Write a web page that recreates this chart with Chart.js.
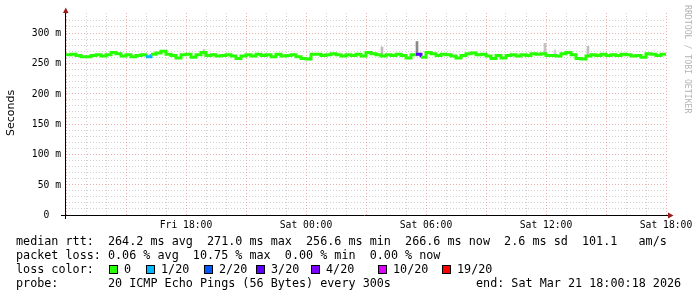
<!DOCTYPE html>
<html>
<head>
<meta charset="utf-8">
<script src="https://cdn.jsdelivr.net/npm/chart.js@4.4.1/dist/chart.umd.min.js"></script>
<style>
  html, body { margin: 0; padding: 0; background: #fff; }
  #wrap { position: relative; width: 697px; height: 297px; overflow: hidden; }
  #myChart { position: absolute; left: 0; top: 0; }
  .row { position: absolute; left: 16px; font-family: "DejaVu Sans Mono", monospace; font-size: 11.75px; white-space: pre; color: #000; line-height: 14px; }
  .box { position: absolute; width: 7px; height: 7px; border: 1px solid #000; top: 3px; }
  .lbl { position: absolute; top: 0; }
</style>
</head>
<body>
<div id="wrap">
  <canvas id="myChart" width="697" height="297"></canvas>
  <div class="row" style="top:234px">median rtt:  264.2 ms avg  271.0 ms max  256.6 ms min  266.6 ms now  2.6 ms sd  101.1   am/s</div>
  <div class="row" style="top:248px">packet loss: 0.06 % avg  10.75 % max  0.00 % min  0.00 % now</div>
  <div class="row" id="lossRow" style="top:262px;width:670px;height:14px">loss color:</div>
  <div class="row" style="top:276px">probe:       20 ICMP Echo Pings (56 Bytes) every 300s</div>
  <div class="row" style="top:276px;left:476px">end: Sat Mar 21 18:00:18 2026</div>
</div>
<script>
// median rtt in ms, one reading every 15 minutes from Fri 12:00 to Sat 18:00
const medianMs = [264, 265, 263, 261, 261, 263, 264, 262, 264, 268,
  266, 262, 264, 261, 263, 264, 261, 265, 267, 270,
  265, 263, 259, 264, 265, 260, 264, 268, 263, 264,
  262, 263, 264, 262, 258, 262, 264, 262, 265, 263,
  264, 261, 265, 262, 263, 264, 261, 258, 257, 265,
  265, 263, 264, 266, 264, 262, 264, 263, 265, 262,
  268, 266, 264, 262, 264, 263, 265, 263, 259, 264,
  265, 260, 268, 266, 263, 265, 264, 262, 259, 263,
  266, 267, 264, 265, 262, 258, 263, 259, 263, 264,
  262, 264, 263, 266, 265, 266, 263, 263, 262, 266,
  268, 264, 258, 257, 262, 264, 263, 265, 263, 264,
  263, 265, 264, 262, 263, 260, 266, 265, 263, 265, 266];
const stepHours = 0.25;

// smoke spikes (hours since start, low / high ms)
const spikeHours = [6.9, 15.8, 17.55, 23.95, 24.45, 26.1];
const spikeLow = [263, 263, 264, 264, 263, 263];
const spikeHigh = [273, 277, 286, 283, 272, 278];
const spikeColors = ['#cccccc', '#bbbbbb', '#8a8a8a', '#c4c4c4', '#d0d0d0', '#c0c0c0'];

// samples with some packet loss
const lossIndex = [16, 70];
const lossColor = ['#00b8ff', '#5e00ff'];

const yTicks = [0, 50, 100, 150, 200, 250, 300];
const xTickHours = [6, 12, 18, 24, 30];
const xTickLabels = ['Fri 18:00', 'Sat 00:00', 'Sat 06:00', 'Sat 12:00', 'Sat 18:00'];

const legendLabels = ['0', '1/20', '2/20', '3/20', '4/20', '10/20', '19/20'];
const legendColors = ['#26ff00', '#00b8ff', '#0059ff', '#5e00ff', '#7e00ff', '#dd00ff', '#ff0000'];
const legendBoxX = [93, 130, 188, 240, 295, 362, 426];

// loss colour legend row
const lossRow = document.getElementById('lossRow');
legendLabels.forEach((t, i) => {
  const b = document.createElement('div');
  b.className = 'box';
  b.style.left = legendBoxX[i] + 'px';
  b.style.background = legendColors[i];
  lossRow.appendChild(b);
  const l = document.createElement('div');
  l.className = 'lbl';
  l.style.left = (legendBoxX[i] + 15) + 'px';
  l.textContent = t;
  lossRow.appendChild(l);
});

const MINOR = 'rgba(170,170,170,0.55)';
const MAJOR = 'rgba(225,120,120,0.6)';
const monoFont = '"DejaVu Sans Mono", monospace';

const decor = {
  id: 'decor',
  afterDraw(chart) {
    const {ctx, chartArea: a, scales: {x, y}} = chart;
    ctx.save();
    // axes
    ctx.strokeStyle = '#000';
    ctx.lineWidth = 1;
    ctx.beginPath();
    ctx.moveTo(65.5, a.bottom + 4);
    ctx.lineTo(65.5, 11);
    ctx.moveTo(61, a.bottom + 0.5);
    ctx.lineTo(668, a.bottom + 0.5);
    ctx.stroke();
    // arrows
    ctx.fillStyle = '#9b1c1c';
    ctx.beginPath();
    ctx.moveTo(63, 13); ctx.lineTo(68.5, 13); ctx.lineTo(65.75, 7.5); ctx.closePath();
    ctx.fill();
    ctx.beginPath();
    ctx.moveTo(668, 212.5); ctx.lineTo(668, 218.5); ctx.lineTo(673.5, 215.5); ctx.closePath();
    ctx.fill();

    // tick labels
    ctx.fillStyle = '#000';
    ctx.font = '9.7px ' + monoFont;
    ctx.textAlign = 'right';
    ctx.textBaseline = 'middle';
    yTicks.forEach(v => {
      ctx.fillText(v === 0 ? '0  ' : v + ' m', 61, y.getPixelForValue(v) + 0.5);
    });
    ctx.textAlign = 'center';
    xTickHours.forEach((h, i) => {
      ctx.fillText(xTickLabels[i], x.getPixelForValue(h), 225.5);
    });

    // axis title
    ctx.save();
    ctx.translate(11, 113);
    ctx.rotate(-Math.PI / 2);
    ctx.font = '11px "DejaVu Sans", sans-serif';
    ctx.textAlign = 'center';
    ctx.textBaseline = 'middle';
    ctx.fillText('Seconds', 0, 0);
    ctx.restore();

    // watermark
    ctx.save();
    ctx.translate(687, 5);
    ctx.rotate(Math.PI / 2);
    ctx.font = '8.2px ' + monoFont;
    ctx.fillStyle = '#b4b4b4';
    ctx.textAlign = 'left';
    ctx.textBaseline = 'middle';
    ctx.fillText('RRDTOOL / TOBI OETIKER', 0, 0);
    ctx.restore();

    ctx.restore();
  }
};

const medianPoints = medianMs.map((v, i) => ({x: i * stepHours, y: v}));
const spikePoints = spikeHours.map((h, i) => ({x: h, y: [spikeLow[i], spikeHigh[i]]}));

const gridX = c => {
  if (!c.tick) return 'rgba(0,0,0,0)';
  return Math.round(c.tick.value) % 3 === 0 ? MAJOR : MINOR;
};
const gridY = c => {
  if (!c.tick) return 'rgba(0,0,0,0)';
  const v = Math.round(c.tick.value);
  if (v % 10 !== 0 || v === 0) return 'rgba(0,0,0,0)';
  return v % 50 === 0 ? MAJOR : MINOR;
};

const config = {
  type: 'line',
  data: {
    datasets: [
      {
        type: 'bar',
        label: 'smoke',
        data: spikePoints,
        backgroundColor: spikeColors,
        barThickness: 2,
        order: 2
      },
      {
        type: 'line',
        label: 'median rtt',
        data: medianPoints,
        borderColor: '#26ff00',
        borderWidth: 3,
        stepped: true,
        pointRadius: 0,
        order: 1,
        segment: {
          borderColor: c => {
            const k = lossIndex.indexOf(c.p0DataIndex);
            return k >= 0 ? lossColor[k] : '#26ff00';
          }
        }
      }
    ]
  },
  options: {
    responsive: false,
    animation: false,
    devicePixelRatio: 1,
    layout: {padding: {left: 66, right: 31, top: 13, bottom: 82}},
    plugins: {legend: {display: false}, tooltip: {enabled: false}},
    scales: {
      x: {
        type: 'linear',
        min: 0,
        max: 30,
        offset: false,
        ticks: {display: false, stepSize: 1},
        grid: {drawTicks: false, offset: false, color: gridX},
        border: {display: false, dash: [1, 2]}
      },
      y: {
        min: 0,
        max: 333,
        ticks: {display: false, stepSize: 10},
        grid: {drawTicks: false, offset: false, color: gridY},
        border: {display: false, dash: [1, 2]}
      }
    }
  },
  plugins: [decor]
};

const myChart = new Chart(document.getElementById('myChart'), config);
</script>
</body>
</html>
